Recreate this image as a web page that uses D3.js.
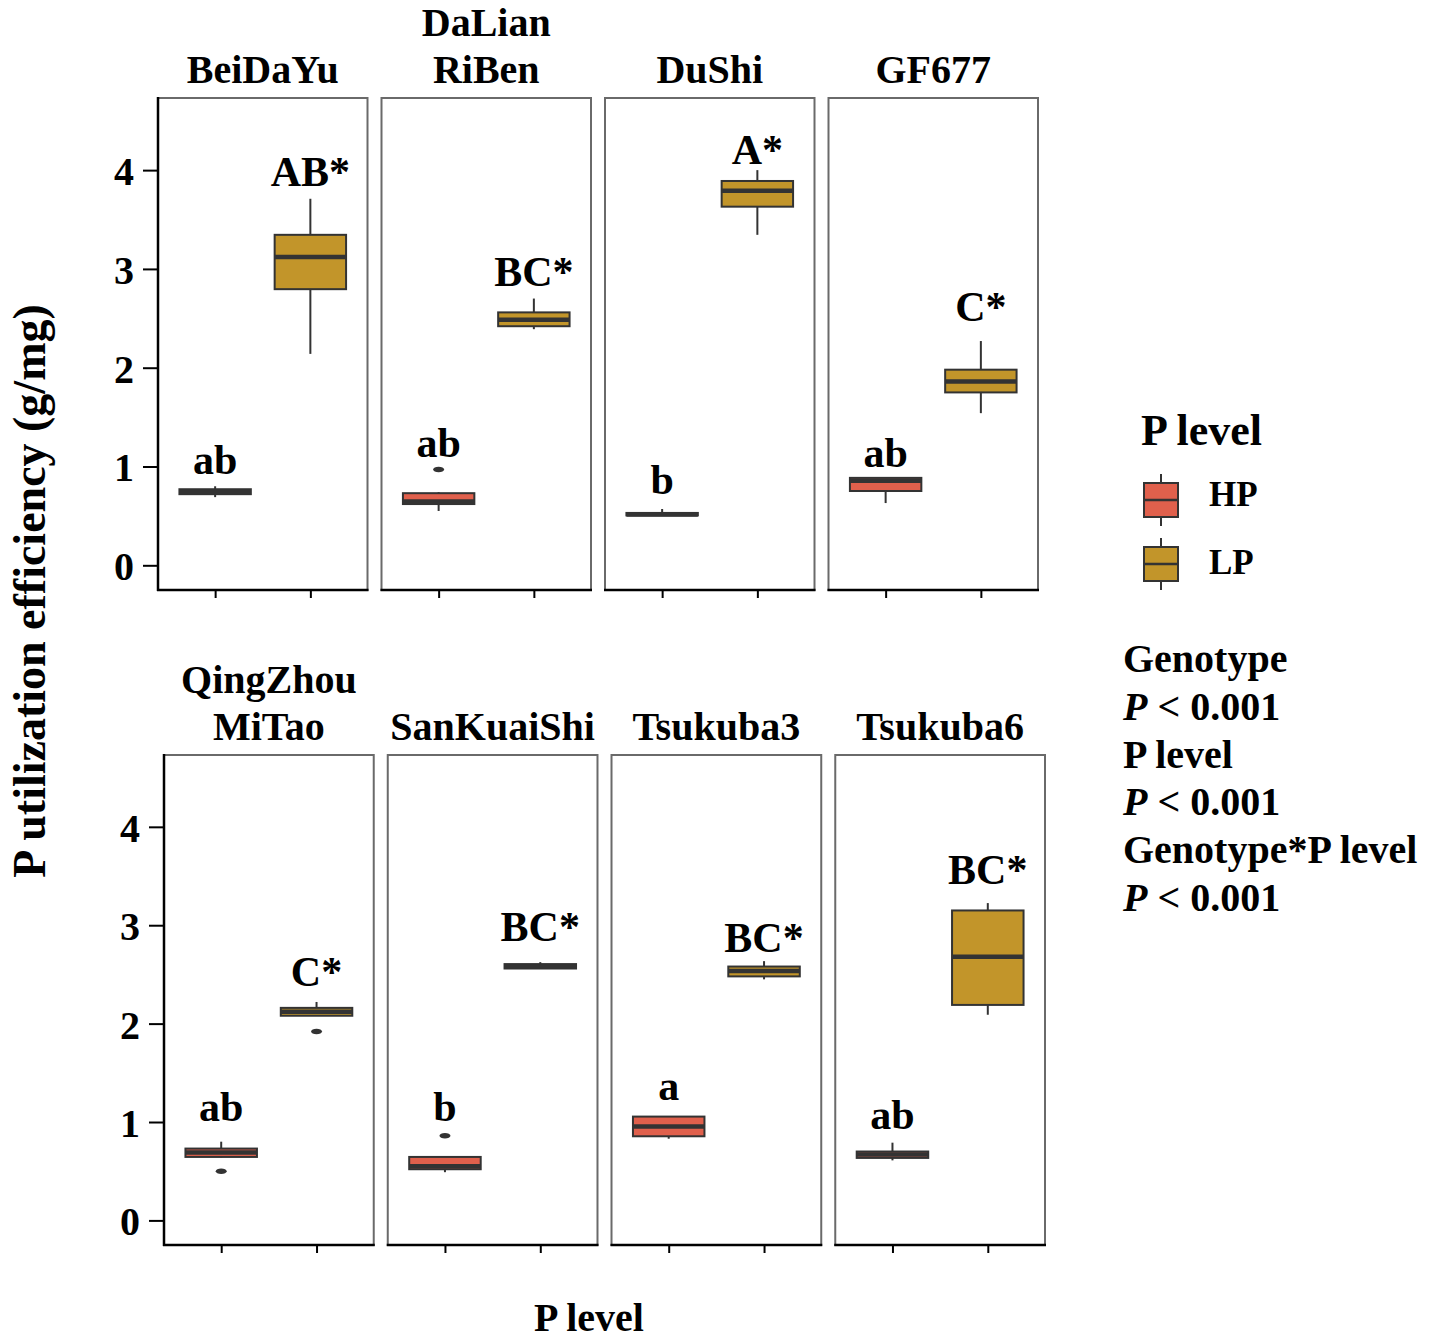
<!DOCTYPE html>
<html><head><meta charset="utf-8">
<script src="https://cdn.jsdelivr.net/npm/d3@7"></script>
<style>
body{margin:0;background:#fff;}
svg text{font-family:"Liberation Serif","Times New Roman",serif;font-weight:bold;fill:#000;}
</style></head>
<body>
<svg id="chart" width="1430" height="1339"></svg>
<script>
// ---------------- data ----------------
const genotypes = ["BeiDaYu","DaLian\nRiBen","DuShi","GF677","QingZhou\nMiTao","SanKuaiShi","Tsukuba3","Tsukuba6"];
const pLevels = ["HP","LP"];
const yTicks = [0,1,2,3,4];

// HP boxplot statistics
const hpMin = [0.69,0.55,0.50,0.63,0.64,0.49,0.83,0.61];
const hpQ1  = [0.72,0.62,0.505,0.752,0.645,0.52,0.855,0.635];
const hpMed = [0.745,0.645,0.515,0.855,0.69,0.55,0.955,0.67];
const hpQ3  = [0.77,0.73,0.53,0.885,0.73,0.645,1.055,0.70];
const hpMax = [0.80,0.74,0.57,0.885,0.80,0.645,1.055,0.79];
const hpOut = [[],[0.97],[],[],[0.50],[0.86],[],[]];
// LP boxplot statistics
const lpMin = [2.14,2.39,3.345,1.54,2.08,2.555,2.45,2.09];
const lpQ1  = [2.795,2.42,3.63,1.75,2.08,2.56,2.48,2.19];
const lpMed = [3.12,2.485,3.79,1.86,2.12,2.58,2.535,2.68];
const lpQ3  = [3.345,2.56,3.89,1.98,2.16,2.605,2.58,3.15];
const lpMax = [3.71,2.70,4.0,2.27,2.22,2.625,2.635,3.225];
const lpOut = [[],[],[],[],[1.92],[],[],[]];

// significance letters and their baseline values
const hpLetters = ["ab","ab","b","ab","ab","b","a","ab"];
const lpLetters = ["AB*","BC*","A*","C*","C*","BC*","BC*","BC*"];
const hpLetterY = [0.92,1.10,0.72,1.0,1.01,1.01,1.22,0.93];
const lpLetterY = [3.84,2.83,4.06,2.47,2.38,2.835,2.724,3.42];

const statLines = [["Genotype",false],["< 0.001",true],["P level",false],["< 0.001",true],["Genotype*P level",false],["< 0.001",true]];
const colors = {HP:"#E0604C", LP:"#C2952A"};

// ---------------- layout ----------------
const svg = d3.select("#chart");
const rows = [
  {x0:158, x1:1038, top:98, bottom:590, strip:83},
  {x0:164, x1:1045, top:755, bottom:1245, strip:740}
];
const yDomain = [-0.25, 4.73];
const stroke = "#333";

genotypes.forEach((g, i) => {
  const r = rows[Math.floor(i/4)];
  const col = i % 4;
  const band = d3.scaleBand().domain([0,1,2,3]).range([r.x0, r.x1]).paddingInner(14/223.5).paddingOuter(0);
  const px = band(col), pw = band.bandwidth();
  const x = d3.scaleLinear().domain([0.4, 2.6]).range([px, px+pw]);
  const y = d3.scaleLinear().domain(yDomain).range([r.bottom, r.top]);
  const gp = svg.append("g");

  // panel border
  gp.append("rect").attr("x",px).attr("y",r.top).attr("width",pw).attr("height",r.bottom-r.top)
    .attr("fill","none").attr("stroke","#6a6a6a").attr("stroke-width",2);

  const stats = [
    {lvl:"HP", pos:1, min:hpMin[i], q1:hpQ1[i], med:hpMed[i], q3:hpQ3[i], max:hpMax[i], out:hpOut[i], lab:hpLetters[i], ly:hpLetterY[i]},
    {lvl:"LP", pos:2, min:lpMin[i], q1:lpQ1[i], med:lpMed[i], q3:lpQ3[i], max:lpMax[i], out:lpOut[i], lab:lpLetters[i], ly:lpLetterY[i]}
  ];
  const hw = 0.375;
  stats.forEach(s => {
    const bg = gp.append("g");
    bg.append("line").attr("x1",x(s.pos)).attr("x2",x(s.pos)).attr("y1",y(s.max)).attr("y2",y(s.q3))
      .attr("stroke",stroke).attr("stroke-width",2);
    bg.append("line").attr("x1",x(s.pos)).attr("x2",x(s.pos)).attr("y1",y(s.q1)).attr("y2",y(s.min))
      .attr("stroke",stroke).attr("stroke-width",2);
    bg.append("rect").attr("x",x(s.pos-hw)).attr("width",x(s.pos+hw)-x(s.pos-hw))
      .attr("y",y(s.q3)).attr("height",Math.max(0.5,y(s.q1)-y(s.q3)))
      .attr("fill",colors[s.lvl]).attr("stroke",stroke).attr("stroke-width",2);
    bg.append("line").attr("x1",x(s.pos-hw)).attr("x2",x(s.pos+hw)).attr("y1",y(s.med)).attr("y2",y(s.med))
      .attr("stroke",stroke).attr("stroke-width",4.5);
    s.out.forEach(o => {
      bg.append("ellipse").attr("cx",x(s.pos)).attr("cy",y(o)).attr("rx",5.5).attr("ry",2.8).attr("fill",stroke);
    });
    gp.append("text").attr("x",x(s.pos)).attr("y",y(s.ly)).attr("text-anchor","middle")
      .style("font-size","42px").text(s.lab);
  });

  // bottom axis
  const xa = gp.append("g").attr("transform",`translate(0,${r.bottom})`)
    .call(d3.axisBottom(x).tickValues([1,2]).tickSize(8).tickFormat(""));
  xa.select(".domain").remove();
  xa.selectAll("line").attr("stroke","#000").attr("stroke-width",2);
  gp.append("line").attr("x1",px-1).attr("x2",px+pw+1).attr("y1",r.bottom).attr("y2",r.bottom)
    .attr("stroke","#000").attr("stroke-width",2.5);

  if (col === 0) {
    const ya = gp.append("g").attr("transform",`translate(${px},0)`)
      .call(d3.axisLeft(y).tickValues(yTicks).tickSize(15).tickPadding(9).tickFormat(d3.format("d")));
    ya.select(".domain").remove();
    ya.selectAll("line").attr("stroke","#000").attr("stroke-width",2);
    ya.selectAll("text").style("font-size","40px").attr("dy","0.36em");
    gp.append("line").attr("x1",px).attr("x2",px).attr("y1",r.top-1).attr("y2",r.bottom+1)
      .attr("stroke","#000").attr("stroke-width",2.5);
  }

  // strip label
  const lines = g.split("\n");
  lines.forEach((t, k) => {
    gp.append("text").attr("x",px+pw/2).attr("y",r.strip-(lines.length-1-k)*47)
      .attr("text-anchor","middle").style("font-size","40px").text(t);
  });
});

// axis titles
svg.append("text").attr("transform","translate(45,591) rotate(-90)").attr("text-anchor","middle")
  .style("font-size","46px").text("P utilization efficiency (g/mg)");
svg.append("text").attr("x",589).attr("y",1331).attr("text-anchor","middle")
  .style("font-size","40px").text("P level");

// legend
const lg = svg.append("g");
lg.append("text").attr("x",1141).attr("y",445).style("font-size","44px").text("P level");
const legendTextY = [506, 574];
pLevels.forEach((p, k) => {
  const top = 483 + k*64, h = 34, cx = 1161;
  lg.append("line").attr("x1",cx).attr("x2",cx).attr("y1",top-9).attr("y2",top+h+9).attr("stroke",stroke).attr("stroke-width",2);
  lg.append("rect").attr("x",1144).attr("y",top).attr("width",34).attr("height",h)
    .attr("fill",colors[p]).attr("stroke",stroke).attr("stroke-width",2);
  lg.append("line").attr("x1",1144).attr("x2",1178).attr("y1",top+h/2).attr("y2",top+h/2).attr("stroke",stroke).attr("stroke-width",2.5);
  lg.append("text").attr("x",1209).attr("y",legendTextY[k]).style("font-size","35px").text(p);
});

// statistics text
statLines.forEach((s, k) => {
  const t = svg.append("text").attr("x",1123).attr("y",672+k*47.8).style("font-size","40px");
  if (s[1]) {
    t.append("tspan").style("font-style","italic").text("P");
    t.append("tspan").text(" " + s[0]);
  } else {
    t.text(s[0]);
  }
});
</script>
</body></html>
